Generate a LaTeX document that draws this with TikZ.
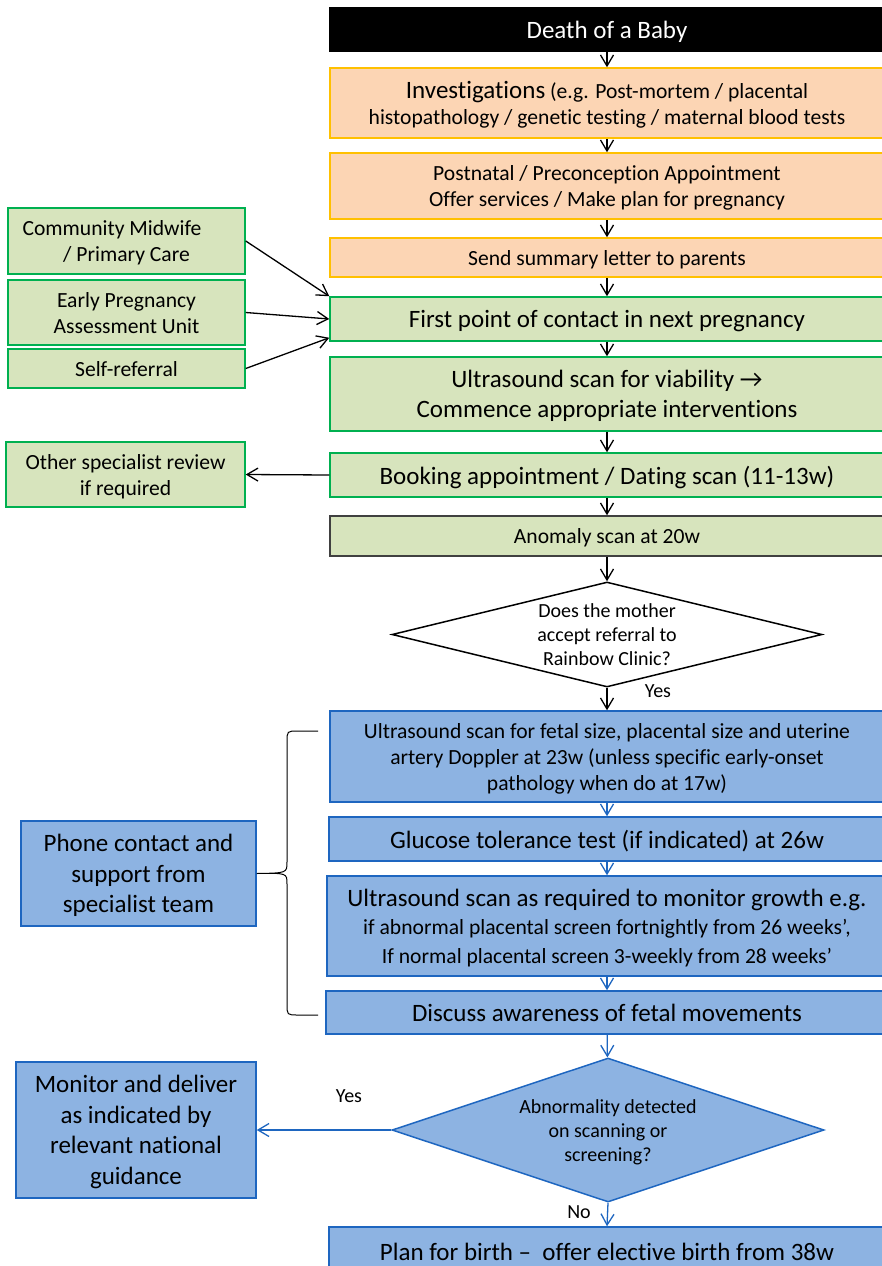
\documentclass[tikz,border=0pt]{standalone}
\usepackage{fontspec}
\setmainfont{Carlito}[RawFeature={-liga;-clig;-dlig}]
\usetikzlibrary{arrows.meta,shapes.geometric}
\definecolor{peach}{HTML}{FCD5B4}
\definecolor{goldb}{HTML}{FFC000}
\definecolor{olivef}{HTML}{D7E4BD}
\definecolor{greenb}{HTML}{00B050}
\definecolor{bluef}{HTML}{8DB3E2}
\definecolor{blueb}{HTML}{1E66C0}
\begin{document}
\begin{tikzpicture}[x=1pt,y=-1pt,
  every node/.style={inner sep=0pt, align=center},
  mybox/.style={draw, rectangle, line width=1.5pt, inner sep=0pt, align=center, text depth=0pt},
  pbx/.style={mybox, fill=peach, draw=goldb},
  gbx/.style={mybox, fill=olivef, draw=greenb},
  bbx/.style={mybox, fill=bluef, draw=blueb},
  big/.style={font=\fontsize{25}{30.5}\selectfont},
  med/.style={font=\fontsize{21.6}{26}\selectfont},
  sml/.style={font=\fontsize{20}{24}\selectfont},
  arr/.style={-{Straight Barb[length=11pt,width=13pt]}, line width=1.3pt},
  barr/.style={arr, draw=blueb}
]
\useasboundingbox (0,0) rectangle (882,1266);

% main column
\node[mybox, fill=black, draw=black, text=white, big, minimum width=554pt, minimum height=43pt] (death) at (607,29.5) {Death of a Baby};
\node[pbx, med, minimum width=554pt, minimum height=70pt] (inv) at (607,103) {{\fontsize{25}{30}\selectfont Investigations} (e.g. Post-mortem / placental\\histopathology / genetic testing / maternal blood tests};
\node[pbx, med, minimum width=554pt, minimum height=66pt] (post) at (607,186) {Postnatal / Preconception Appointment\\Offer services / Make plan for pregnancy};
\node[pbx, med, minimum width=554pt, minimum height=39pt] (send) at (607,257.5) {Send summary letter to parents};
\node[gbx, big, minimum width=554pt, minimum height=44pt] (first) at (607,319) {First point of contact in next pregnancy};
\node[gbx, big, minimum width=554pt, minimum height=74pt] (viab) at (607,394) {Ultrasound scan for viability →\\Commence appropriate interventions};
\node[gbx, big, minimum width=554pt, minimum height=44pt] (book) at (607,475) {Booking appointment / Dating scan (11-13w)};
\node[mybox, fill=olivef, draw=black!75, med, minimum width=554pt, minimum height=40pt] (anom) at (607,536) {Anomaly scan at 20w};
\node[diamond, draw=black, fill=white, line width=1.5pt, minimum width=430pt, minimum height=105pt, inner sep=0pt,
  label={[sml]center:Does the mother\\accept referral to\\Rainbow Clinic?}] (dia1) at (607,634.5) {};
\node[bbx, med, minimum width=554pt, minimum height=91pt] (fetal) at (607,756.5) {Ultrasound scan for fetal size, placental size and uterine\\artery Doppler at 23w (unless specific early-onset\\pathology when do at 17w)};
\node[bbx, big, minimum width=556pt, minimum height=44pt] (gluc) at (607,839) {Glucose tolerance test (if indicated) at 26w};
\node[bbx, font=\fontsize{21.6}{28.5}\selectfont, minimum width=560pt, minimum height=100pt] (growth) at (607,926) {{\fontsize{25}{28}\selectfont Ultrasound scan as required to monitor growth e.g.}\\if abnormal placental screen fortnightly from 26 weeks’,\\If normal placental screen 3-weekly from 28 weeks’};
\node[bbx, big, minimum width=562pt, minimum height=43pt] (disc) at (607,1012.5) {Discuss awareness of fetal movements};
\node[diamond, draw=blueb, fill=bluef, line width=1.5pt, minimum width=432pt, minimum height=144pt, inner sep=0pt,
  label={[sml, yshift=-2pt]center:Abnormality detected\\on scanning or\\screening?}] (dia2) at (608,1130) {};
\node[bbx, big, minimum width=556pt, minimum height=50pt] (plan) at (607,1252) {Plan for birth –\ \ offer elective birth from 38w};

% left column
\node[gbx, med, minimum width=237pt, minimum height=66pt] (comm) at (126.5,241) {Community Midwife\rule{29pt}{0pt}\\/ Primary Care};
\node[gbx, med, minimum width=237pt, minimum height=65pt] (early) at (126.5,312.5) {Early Pregnancy\\Assessment Unit};
\node[gbx, med, minimum width=237pt, minimum height=39pt] (self) at (126.5,368.5) {Self-referral};
\node[gbx, med, minimum width=239pt, minimum height=65pt] (other) at (125.5,474.5) {Other specialist review\\if required};
\node[bbx, big, minimum width=235pt, minimum height=105pt] (phone) at (138.5,873.5) {Phone contact and\\support from\\specialist team};
\node[bbx, big, minimum width=240pt, minimum height=136pt] (monitor) at (136,1130) {Monitor and deliver\\as indicated by\\relevant national\\guidance};

% labels
\node[sml] (yes1) at (658,691) {Yes};
\node[sml] (yes2) at (349,1096) {Yes};
\node[sml] (no) at (579,1212) {No};

% connectors
\draw[arr] (death) -- (inv);
\draw[arr] (inv) -- (post);
\draw[arr] (post) -- (send);
\draw[arr] (send) -- (first);
\draw[arr] (first) -- (viab);
\draw[arr] (viab) -- (book);
\draw[arr] (book) -- (anom);
\draw[arr] (anom) -- (dia1);
\draw[arr] (dia1) -- (fetal);
\draw[arr] (comm.east) -- (first.north west);
\draw[arr] (early.east) -- (first.west);
\draw[arr] (self.east) -- ([yshift=4pt]first.south west);
\draw[arr] (book.west) -- (other.east);
\draw[barr] (fetal) -- (gluc);
\draw[barr] (gluc) -- (growth);
\draw[barr] (growth) -- (disc);
\draw[barr] (disc) -- (dia2);
\draw[barr] (dia2.south) -- (plan.north);
\draw[barr] (dia2.west) -- (monitor.east);

% brace
\draw[line width=1pt] (318,731) -- (298,731) .. controls (287,731) .. (287,742) -- (287,862)
  .. controls (287,873) .. (phone.east) .. controls (287,873) .. (287,884) -- (287,1004)
  .. controls (287,1015) .. (298,1015) -- (318,1015);
\end{tikzpicture}
\end{document}
